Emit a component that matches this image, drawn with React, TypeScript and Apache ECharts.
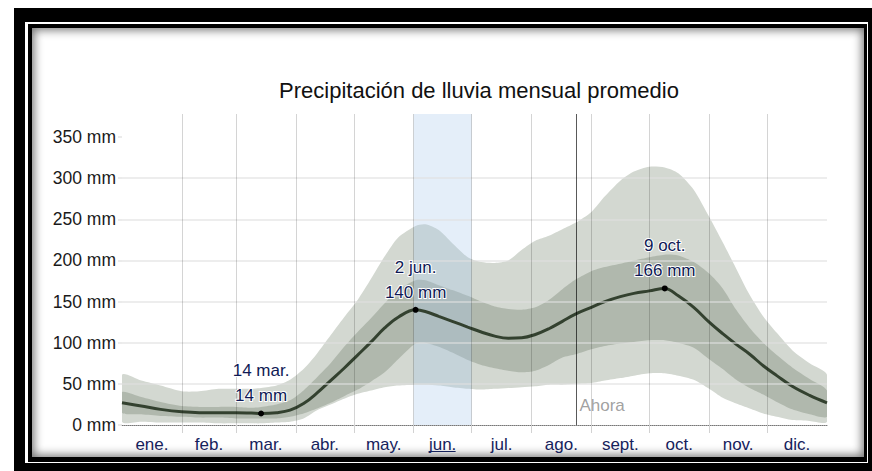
import React, { useEffect, useRef } from 'react';
import * as echarts from 'echarts';

const TITLE = 'Precipitación de lluvia mensual promedio';
const MONTHS = ['ene.', 'feb.', 'mar.', 'abr.', 'may.', 'jun.', 'jul.', 'ago.', 'sept.', 'oct.', 'nov.', 'dic.'];
const MONTH_STARTS = [0, 31, 59, 90, 120, 151, 181, 212, 243, 273, 304, 334, 365];
const Y_TICKS = [0, 50, 100, 150, 200, 250, 300, 350];
const Y_MAX = 378;
const HIGHLIGHT_MONTH = 5;

const DAYS = [0, 10, 20, 31, 40, 50, 59, 67, 72, 80, 87, 94, 101, 108, 115, 122, 129, 136, 143, 152, 157, 164, 171, 179, 186, 193, 200, 207, 214, 221, 228, 235, 243, 250, 258, 265, 273, 281, 288, 296, 304, 311, 318, 325, 332, 339, 347, 356, 365];
const MEAN = [27, 23, 19, 16, 15, 15, 15, 14.5, 14, 15, 18, 26, 39, 54, 69, 85, 101, 118, 131, 140, 138, 132, 126, 119, 113, 108, 105.5, 106, 110, 117, 126, 135, 143, 150, 156, 160, 163, 166, 157, 143, 125, 111, 98, 86, 72, 60, 47, 36, 27];
const P90 = [61, 54, 48, 41, 41, 44, 44, 44, 45, 48, 55, 68, 87, 109, 131, 152, 178, 205, 228, 242, 244, 237, 221, 204, 198, 197, 200, 213, 224, 230, 238, 246, 259, 278, 297, 308, 314, 313, 306, 286, 253, 222, 190, 158, 132, 112, 91, 75, 61];
const P75 = [40, 34, 28, 23, 22, 22, 22, 21, 22, 25, 30, 42, 58, 75, 95, 113, 130, 148, 164, 176, 176, 170, 164, 157, 150, 144, 141, 140, 143, 152, 165, 177, 187, 192, 196, 200, 204, 207, 206, 198, 184, 166, 140, 118, 100, 85, 70, 56, 42];
const P25 = [15, 13, 11, 10, 9, 9, 8, 8, 8, 8, 10, 14, 20, 27, 35, 43, 53, 64, 80, 99, 100, 95, 88, 79, 73, 69, 66, 64, 66, 73, 82, 86, 92, 96, 99, 101, 103, 103, 100, 94, 80, 68, 55, 45, 37, 28, 19, 13, 10];
const P10 = [4, 4, 3, 3, 3, 2, 2, 2, 2, 3, 4, 8, 18, 25, 32, 38, 42, 46, 48, 49, 49, 48, 46, 44, 43, 44, 45, 46, 47, 49, 49, 50, 51, 54, 57, 60, 63, 63, 60, 55, 44, 33, 26, 20, 14, 10, 6, 5, 4];

const PEAK_DAYS = [72, 152, 281];
const PEAK_VALUES = [14, 140, 166];
const PEAK_DATES = ['14 mar.', '2 jun.', '9 oct.'];
const NOW_DAY = 235;
const NOW_LABEL = 'Ahora';

const FONT = '"Liberation Sans", Arial, sans-serif';
const NAVY = '#16225c';

function bandSeries(upper: number[], lower: number[], color: string, z: number) {
  return {
    type: 'custom',
    z,
    silent: true,
    clip: true,
    data: [[DAYS[0], lower[0]]],
    renderItem: (_p: any, api: any) => {
      const pts: number[][] = [];
      for (let i = 0; i < DAYS.length; i++) pts.push(api.coord([DAYS[i], upper[i]]));
      for (let i = DAYS.length - 1; i >= 0; i--) pts.push(api.coord([DAYS[i], lower[i]]));
      return { type: 'polygon', shape: { points: pts, smooth: 0.25 }, style: { fill: color } };
    },
  };
}

export default function App() {
  const ref = useRef<HTMLDivElement>(null);
  useEffect(() => {
    if (!ref.current) return;
    const chart = echarts.init(ref.current, undefined, { renderer: 'svg' });
    const mids = MONTH_STARTS.slice(0, -1).map((s, i) => (s + MONTH_STARTS[i + 1]) / 2);
    const option: any = {
      animation: false,
      title: {
        text: TITLE,
        left: 474,
        top: 74,
        textAlign: 'center',
        textStyle: { fontFamily: FONT, fontSize: 22, fontWeight: 'normal', color: '#111' },
      },
      grid: { left: 122, right: 45, top: 114, bottom: 46, containLabel: false },
      xAxis: {
        type: 'value',
        min: 0,
        max: 365,
        axisLine: { show: true, lineStyle: { color: '#777', type: 'dotted', width: 1 } },
        axisTick: {
          show: true,
          customValues: MONTH_STARTS.slice(1, -1),
          length: 8,
          lineStyle: { color: '#d2d2d2', width: 1 },
        },
        splitLine: { show: false },
        axisLabel: {
          customValues: mids,
          formatter: (v: number) => {
            let best = 0;
            mids.forEach((m, i) => { if (Math.abs(m - v) < Math.abs(mids[best] - v)) best = i; });
            return MONTHS[best];
          },
          fontFamily: FONT,
          fontSize: 17,
          color: NAVY,
          margin: 11,
        },
      },
      yAxis: {
        type: 'value',
        min: 0,
        max: Y_MAX,
        interval: 50,
        z: 5,
        axisLine: { show: false },
        axisTick: {
          show: true,
          customValues: Y_TICKS,
          length: 4,
          lineStyle: { color: '#e4e4e4', width: 1.5 },
        },
        splitLine: {
          show: true,
          showMinLine: false,
          showMaxLine: false,
          lineStyle: { color: 'rgba(225,225,225,0.77)', width: 1.5 },
        },
        axisLabel: {
          customValues: Y_TICKS,
          formatter: (v: number) => `${v} mm`,
          fontFamily: FONT,
          fontSize: 17.5,
          color: '#1a1a1a',
          margin: 6,
        },
      },
      series: [
        bandSeries(P90, P10, '#d3d8d1', 1),
        bandSeries(P75, P25, '#b0b8ad', 2),
        {
          type: 'custom',
          z: 3,
          silent: true,
          data: [[MONTH_STARTS[HIGHLIGHT_MONTH], 0]],
          renderItem: (_p: any, api: any) => {
            const a = api.coord([MONTH_STARTS[HIGHLIGHT_MONTH], Y_MAX]);
            const b = api.coord([MONTH_STARTS[HIGHLIGHT_MONTH + 1], 0]);
            return {
              type: 'rect',
              shape: { x: a[0], y: a[1], width: b[0] - a[0], height: b[1] - a[1] },
              style: { fill: 'rgba(165,198,236,0.3)' },
            };
          },
        },
        {
          type: 'line',
          z: 4,
          data: DAYS.map((d, i) => [d, MEAN[i]]),
          smooth: 0.4,
          showSymbol: false,
          silent: true,
          lineStyle: { color: '#33412f', width: 3 },
          markLine: {
            silent: true,
            symbol: ['none', 'none'],
            label: { show: false },
            data: [
              ...MONTH_STARTS.slice(1, -1).map((d) => ({
                xAxis: d,
                lineStyle: { color: 'rgba(0,0,0,0.17)', width: 1, type: 'solid' },
              })),
              { xAxis: NOW_DAY, lineStyle: { color: 'rgba(0,0,0,0.65)', width: 1, type: 'solid' } },
            ],
          },
        },
        {
          type: 'scatter',
          z: 6,
          silent: true,
          data: PEAK_DAYS.map((d, i) => [d, PEAK_VALUES[i]]),
          symbolSize: 6,
          itemStyle: { color: '#000', opacity: 1 },
          label: {
            show: true,
            position: 'top',
            distance: 2,
            formatter: (p: any) => `${PEAK_DATES[p.dataIndex]}\n${PEAK_VALUES[p.dataIndex]} mm`,
            fontFamily: FONT,
            fontSize: 17,
            lineHeight: 25,
            color: '#0f1a55',
            opacity: 1,
            textBorderColor: '#ffffff',
            textBorderWidth: 2,
          },
        },
        {
          type: 'scatter',
          z: 6,
          silent: true,
          data: [[NOW_DAY, 0]],
          symbolSize: 1,
          itemStyle: { color: 'transparent' },
          label: {
            show: true,
            position: [4, -28],
            align: 'left',
            verticalAlign: 'top',
            formatter: NOW_LABEL,
            fontFamily: FONT,
            fontSize: 17,
            color: '#888',
          },
        },
      ],
    };
    chart.setOption(option);
    const c = chart.convertToPixel({ xAxisIndex: 0, yAxisIndex: 0 }, [mids[HIGHLIGHT_MONTH], 0]) as number[];
    chart.setOption({
      graphic: [
        {
          type: 'line',
          silent: true,
          shape: { x1: c[0] - 14, y1: c[1] + 26.5, x2: c[0] + 13, y2: c[1] + 26.5 },
          style: { stroke: NAVY, lineWidth: 1 },
        },
      ],
    });
    return () => chart.dispose();
  }, []);

  const abs = (l: number, t: number, w: number, h: number, extra: any = {}) => ({
    position: 'absolute' as const,
    left: l,
    top: t,
    width: w,
    height: h,
    ...extra,
  });

  return (
    <div style={{ position: 'fixed', left: 0, top: 0, width: 872, height: 471, background: '#fff', overflow: 'hidden' }}>
      <div style={abs(14, 8, 858, 463, { background: '#000' })} />
      <div style={abs(25, 22, 843, 441, { background: '#fff' })} />
      <div style={abs(28, 24, 839, 438, { background: '#000' })} />
      <div style={abs(32, 28, 832, 429, { background: '#fff', boxShadow: 'inset 0 0 10px 2px rgba(0,0,0,0.55)' })} />
      <div ref={ref} style={abs(0, 0, 872, 471, { zIndex: 1 })} />
    </div>
  );
}
